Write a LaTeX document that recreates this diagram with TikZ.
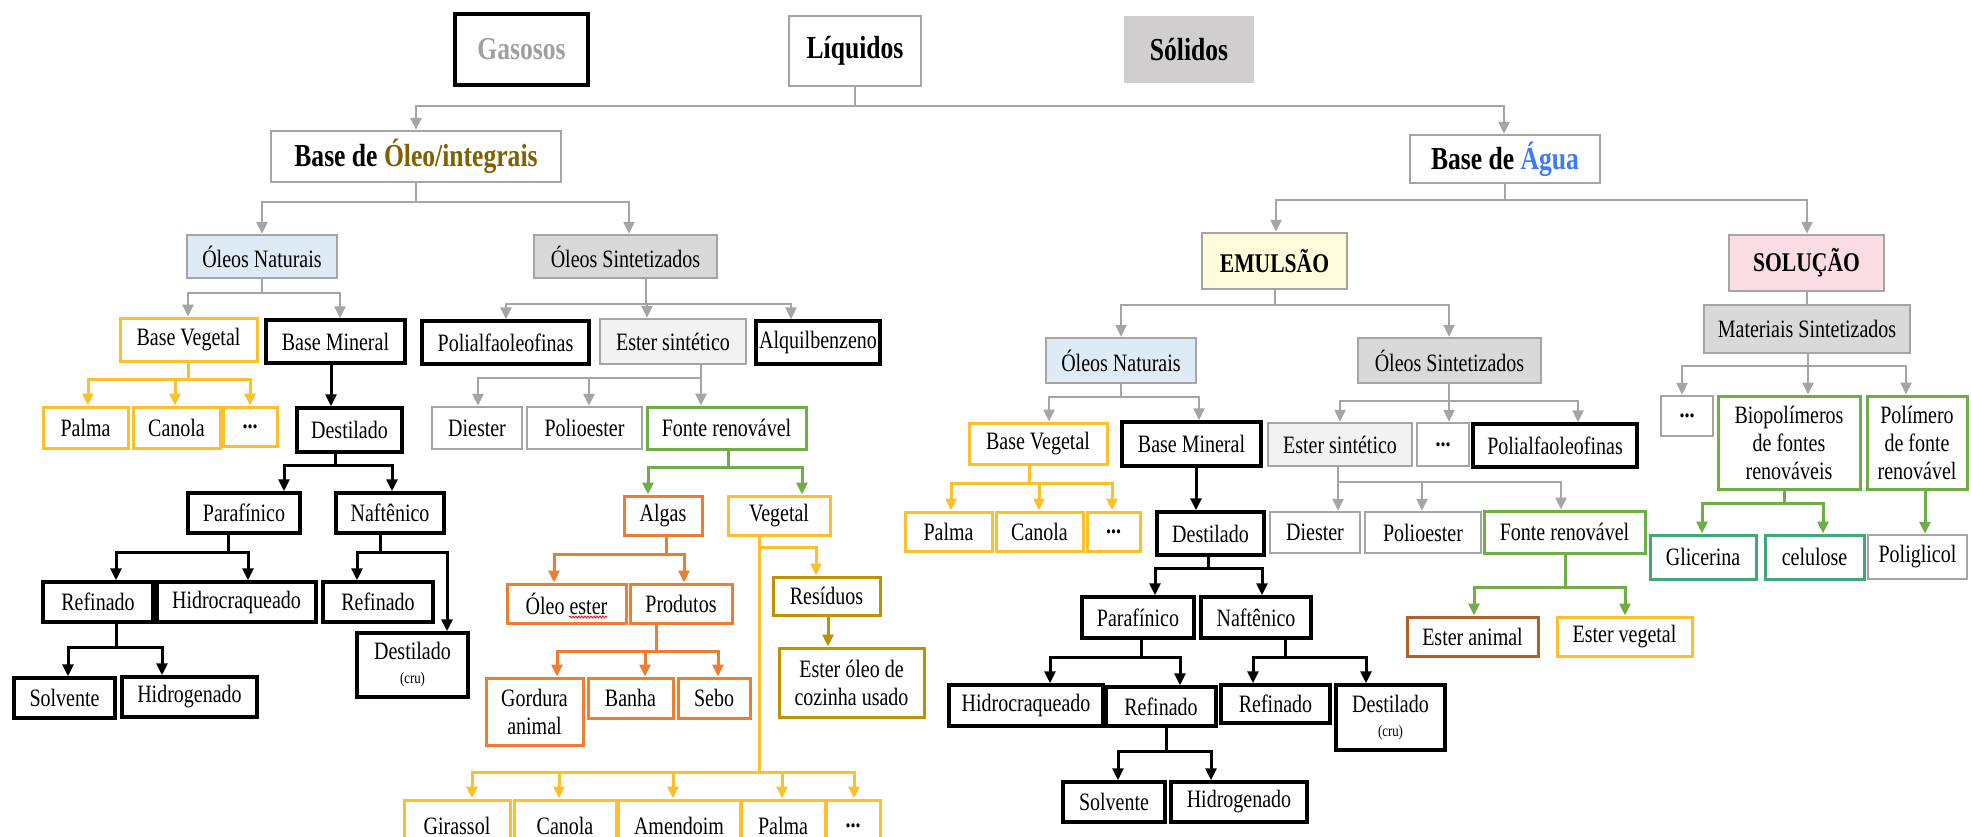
\documentclass[tikz,border=0pt]{standalone}
\usepackage{fontspec}
\setmainfont[FakeStretch=0.8]{Liberation Serif}
\usetikzlibrary{arrows.meta,decorations.pathmorphing}
\definecolor{cgray}{RGB}{165,165,165}
\definecolor{cyel}{RGB}{252,192,45}
\definecolor{corg}{RGB}{237,125,49}
\definecolor{cgrn}{RGB}{112,173,71}
\definecolor{cdg}{RGB}{191,144,0}
\definecolor{cbrn}{RGB}{176,96,40}
\definecolor{cteal}{RGB}{64,168,120}
\definecolor{fblue}{RGB}{222,235,247}
\definecolor{fgray}{RGB}{217,217,217}
\definecolor{fsol}{RGB}{208,206,206}
\definecolor{flgray}{RGB}{242,242,242}
\definecolor{fyel}{RGB}{255,252,220}
\definecolor{fpink}{RGB}{250,220,228}
\definecolor{toleo}{RGB}{128,96,0}
\definecolor{tagua}{RGB}{61,123,245}
\definecolor{tgas}{RGB}{160,160,160}
\newcommand{\bx}[6]{\node[#1, minimum width={(#4)-(#2)}, minimum height={(#5)-(#3)}] (#6) at ({((#2)+(#4))/2},{((#3)+(#5))/2})}
\newcommand{\tr}[6]{\draw[#1] (#2.south -| #3,0) |- (#5,#4) -- (#6.north -| #5,0);}
\newcommand{\st}[4]{\draw[#1] (#2.south -| #3,0) -- (#4.north -| #3,0);}
\newcommand{\dd}{\textbf{...}}
\tikzset{
  every node/.style={inner sep=1pt, align=center, font=\fontsize{25}{28}\selectfont},
  hdr/.style={font=\fontsize{32}{36}\selectfont\bfseries},
  hdrs/.style={font=\fontsize{27}{30}\selectfont\bfseries},
  gbox/.style={draw=cgray, line width=2.5pt},
  kbox/.style={draw=black, line width=3.5pt},
  ybox/.style={draw=cyel, line width=3pt},
  obox/.style={draw=corg, line width=3pt},
  grbox/.style={draw=cgrn, line width=3pt},
  dgbox/.style={draw=cdg, line width=3pt},
  brbox/.style={draw=cbrn, line width=3pt},
  tbox/.style={draw=cteal, line width=3pt},
  arr/.style={-{Triangle[length=12pt,width=11pt]}},
  gc/.style={draw=cgray, line width=2.5pt, arr},
  kc/.style={draw=black, line width=3pt, arr},
  yc/.style={draw=cyel, line width=3pt, arr},
  oc/.style={draw=corg, line width=3pt, arr},
  grc/.style={draw=cgrn, line width=3pt, arr},
  dgc/.style={draw=cdg, line width=3pt, arr},
}
\begin{document}
\begin{tikzpicture}[x=1pt,y=-1pt]
\useasboundingbox (0,0) rectangle (1971,836);
\fill[white] (0,0) rectangle (1971,836);
\clip (0,0) rectangle (1971,836);
% top
\bx{kbox,hdr}{455}{14}{588}{85}{gas} {\textcolor{tgas}{Gasosos}};
\bx{gbox,hdr}{789}{16}{921}{86}{liq} {Líquidos};
\bx{fill=fsol,hdr}{1124}{16}{1254}{83}{sol} {Sólidos};
\bx{gbox,hdr}{271}{131}{561}{182}{oleo} {Base de \textcolor{toleo}{Óleo/integrais}};
\bx{gbox,hdr}{1410}{135}{1600}{183}{agua} {Base de \textcolor{tagua}{Água}};
\tr{gc}{liq}{855}{106}{416}{oleo}
\tr{gc}{liq}{855}{106}{1504}{agua}
% left tree
\bx{gbox,fill=fblue}{187}{235}{337}{278}{onat} {Óleos Naturais};
\bx{gbox,fill=fgray}{534}{235}{717}{278}{osin} {Óleos Sintetizados};
\tr{gc}{oleo}{416}{202}{262}{onat}
\tr{gc}{oleo}{416}{202}{629}{osin}
\bx{ybox}{120}{318}{257}{361}{bveg} {Base Vegetal};
\bx{kbox}{266}{320}{405}{363}{bmin} {Base Mineral};
\tr{gc}{onat}{262}{293}{188}{bveg}
\tr{gc}{onat}{262}{293}{340}{bmin}
\bx{ybox}{43}{407}{128}{448}{palma} {Palma};
\bx{ybox}{133}{407}{220}{448}{canola} {Canola};
\bx{ybox}{223}{407}{277}{446}{dotsa} {\dd};
\tr{yc}{bveg}{188}{379}{88}{palma}
\tr{yc}{bveg}{188}{379}{175}{canola}
\tr{yc}{bveg}{188}{379}{250}{dotsa}
\bx{kbox}{297}{408}{402}{452}{dest} {Destilado};
\st{kc}{bmin}{331}{dest}
\bx{kbox}{188}{493}{300}{533}{paraf} {Parafínico};
\bx{kbox}{336}{493}{444}{533}{naft} {Naftênico};
\tr{kc}{dest}{335}{465}{284}{paraf}
\tr{kc}{dest}{335}{465}{392}{naft}
\bx{kbox}{43}{582}{153}{622}{refa} {Refinado};
\bx{kbox}{157}{582}{316}{622}{hidroa} {Hidrocraqueado};
\tr{kc}{paraf}{228}{552}{116}{refa}
\tr{kc}{paraf}{228}{552}{248}{hidroa}
\bx{kbox}{323}{582}{433}{622}{refb} {Refinado};
\bx{kbox}{357}{633}{468}{697}{destca} {Destilado\\[-4pt]{\fontsize{16}{18}\selectfont (cru)}};
\tr{kc}{naft}{380}{552}{357}{refb}
\tr{kc}{naft}{380}{552}{447}{destca}
\bx{kbox}{14}{678}{115}{718}{solva} {Solvente};
\bx{kbox}{122}{677}{257}{717}{hidroga} {Hidrogenado};
\tr{kc}{refa}{116}{647}{68}{solva}
\tr{kc}{refa}{116}{647}{162}{hidroga}
\bx{kbox}{422}{321}{589}{364}{polia} {Polialfaoleofinas};
\bx{gbox,fill=flgray}{600}{319}{746}{364}{estera} {Ester sintético};
\bx{kbox}{756}{321}{880}{364}{alq} {Alquilbenzeno};
\tr{gc}{osin}{646}{304}{506}{polia}
\tr{gc}{osin}{646}{304}{647}{estera}
\tr{gc}{osin}{646}{304}{791}{alq}
\bx{gbox}{432}{407}{522}{449}{diesa} {Diester};
\bx{gbox}{527}{407}{642}{449}{poliea} {Polioester};
\bx{grbox}{647}{407}{806}{449}{fontea} {Fonte renovável};
\tr{gc}{estera}{701}{378}{478}{diesa}
\tr{gc}{estera}{701}{378}{589}{poliea}
\tr{gc}{estera}{701}{378}{701}{fontea}
\bx{obox}{624}{496}{702}{535}{algas} {Algas};
\bx{ybox}{728}{496}{830}{535}{veg} {Vegetal};
\tr{grc}{fontea}{728}{467}{648}{algas}
\tr{grc}{fontea}{728}{467}{802}{veg}
\bx{obox}{507}{584}{626}{623}{oleoe} {Óleo ester};
\bx{obox}{630}{584}{732}{623}{prod} {Produtos};
\tr{oc}{algas}{666}{554}{554}{oleoe}
\tr{oc}{algas}{666}{554}{684}{prod}
\draw[red, line width=0.8pt, decorate, decoration={snake,amplitude=1pt,segment length=3pt}] (569,617) -- (607,617);
\bx{obox}{486}{678}{583}{745}{gord} {Gordura\\animal};
\bx{obox}{588}{678}{673}{718}{banha} {Banha};
\bx{obox}{678}{678}{750}{718}{sebo} {Sebo};
\tr{oc}{prod}{656}{651}{557}{gord}
\tr{oc}{prod}{656}{651}{645}{banha}
\tr{oc}{prod}{656}{651}{718}{sebo}
\bx{dgbox}{773}{577}{880}{615}{resid} {Resíduos};
\bx{dgbox}{779}{648}{924}{717}{esteroleo} {Ester óleo de\\cozinha usado};
\tr{yc}{veg}{759}{547}{816}{resid}
\st{dgc}{resid}{828}{esteroleo}
\bx{ybox}{404}{800}{510}{852}{gir} {Girassol};
\bx{ybox}{514}{800}{616}{852}{canolb} {Canola};
\bx{ybox}{618}{800}{740}{852}{amen} {Amendoim};
\bx{ybox}{741}{800}{825}{852}{palmb} {Palma};
\bx{ybox}{826}{800}{880}{852}{dotsb} {\dd};
\tr{yc}{veg}{759}{772}{472}{gir}
\tr{yc}{veg}{759}{772}{559}{canolb}
\tr{yc}{veg}{759}{772}{673}{amen}
\tr{yc}{veg}{759}{772}{782}{palmb}
\tr{yc}{veg}{759}{772}{854}{dotsb}
% right tree
\bx{gbox,fill=fyel,hdrs}{1202}{233}{1347}{289}{emul} {EMULSÃO};
\bx{gbox,fill=fpink,hdrs}{1729}{235}{1884}{291}{solu} {SOLUÇÃO};
\tr{gc}{agua}{1505}{200}{1276}{emul}
\tr{gc}{agua}{1505}{200}{1807}{solu}
\bx{gbox,fill=fblue}{1046}{338}{1196}{383}{onatb} {Óleos Naturais};
\bx{gbox,fill=fgray}{1358}{338}{1541}{383}{osinb} {Óleos Sintetizados};
\tr{gc}{emul}{1275}{305}{1121}{onatb}
\tr{gc}{emul}{1275}{305}{1449}{osinb}
\bx{ybox}{969}{423}{1107}{464}{bvegb} {Base Vegetal};
\bx{kbox}{1122}{422}{1261}{466}{bminb} {Base Mineral};
\tr{gc}{onatb}{1121}{397}{1049}{bvegb}
\tr{gc}{onatb}{1121}{397}{1199}{bminb}
\bx{ybox}{905}{512}{992}{551}{palmc} {Palma};
\bx{ybox}{996}{512}{1083}{551}{canolc} {Canola};
\bx{ybox}{1087}{512}{1140}{551}{dotsc} {\dd};
\tr{yc}{bvegb}{1029}{483}{951}{palmc}
\tr{yc}{bvegb}{1029}{483}{1039}{canolc}
\tr{yc}{bvegb}{1029}{483}{1112}{dotsc}
\bx{kbox}{1157}{512}{1264}{555}{destb} {Destilado};
\st{kc}{bminb}{1196}{destb}
\bx{kbox}{1082}{597}{1194}{638}{parafb} {Parafínico};
\bx{kbox}{1201}{597}{1311}{638}{naftb} {Naftênico};
\tr{kc}{destb}{1208}{568}{1155}{parafb}
\tr{kc}{destb}{1208}{568}{1262}{naftb}
\bx{kbox}{949}{685}{1103}{726}{hidrob} {Hidrocraqueado};
\bx{kbox}{1106}{687}{1216}{726}{refc} {Refinado};
\tr{kc}{parafb}{1141}{657}{1050}{hidrob}
\tr{kc}{parafb}{1141}{657}{1180}{refc}
\bx{kbox}{1221}{685}{1330}{723}{refd} {Refinado};
\bx{kbox}{1336}{685}{1445}{750}{destcb} {Destilado\\[-4pt]{\fontsize{16}{18}\selectfont (cru)}};
\tr{kc}{naftb}{1285}{657}{1253}{refd}
\tr{kc}{naftb}{1285}{657}{1366}{destcb}
\bx{kbox}{1063}{782}{1165}{822}{solvb} {Solvente};
\bx{kbox}{1171}{782}{1307}{822}{hidrogb} {Hidrogenado};
\tr{kc}{refc}{1166}{751}{1118}{solvb}
\tr{kc}{refc}{1166}{751}{1211}{hidrogb}
\bx{gbox,fill=flgray}{1268}{423}{1412}{466}{esterb} {Ester sintético};
\bx{gbox}{1417}{423}{1469}{466}{dotsd} {\dd};
\bx{kbox}{1473}{424}{1637}{467}{polib} {Polialfaoleofinas};
\tr{gc}{osinb}{1449}{401}{1340}{esterb}
\tr{gc}{osinb}{1449}{401}{1449}{dotsd}
\tr{gc}{osinb}{1449}{401}{1578}{polib}
\bx{gbox}{1270}{512}{1360}{553}{diesb} {Diester};
\bx{gbox}{1365}{512}{1481}{553}{folieb} {Polioester};
\bx{grbox}{1484}{511}{1645}{553}{fonteb} {Fonte renovável};
\tr{gc}{esterb}{1338}{482}{1338}{diesb}
\tr{gc}{esterb}{1338}{482}{1422}{folieb}
\tr{gc}{esterb}{1338}{482}{1561}{fonteb}
\bx{brbox}{1407}{617}{1538}{656}{esta} {Ester animal};
\bx{ybox}{1557}{617}{1692}{656}{estv} {Ester vegetal};
\tr{grc}{fonteb}{1565}{587}{1474}{esta}
\tr{grc}{fonteb}{1565}{587}{1625}{estv}
\bx{gbox,fill=fgray}{1704}{305}{1910}{353}{mat} {Materiais Sintetizados};
\draw[cgray, line width=2.5pt] (solu.south -| 1807,0) -- (mat.north -| 1807,0);
\bx{gbox}{1661}{396}{1713}{436}{dotse} {\dd};
\bx{grbox}{1718}{396}{1860}{489}{bio} {Biopolímeros\\de fontes\\renováveis};
\bx{grbox}{1867}{396}{1967}{489}{polf} {Polímero\\de fonte\\renovável};
\tr{gc}{mat}{1808}{366}{1682}{dotse}
\tr{gc}{mat}{1808}{366}{1808}{bio}
\tr{gc}{mat}{1808}{366}{1906}{polf}
\bx{tbox}{1650}{535}{1756}{579}{glic} {Glicerina};
\bx{tbox}{1765}{535}{1864}{579}{celu} {celulose};
\bx{gbox}{1868}{535}{1967}{579}{polig} {Poliglicol};
\tr{grc}{bio}{1784}{503}{1702}{glic}
\tr{grc}{bio}{1784}{503}{1823}{celu}
\st{grc}{polf}{1925}{polig}
\end{tikzpicture}
\end{document}
